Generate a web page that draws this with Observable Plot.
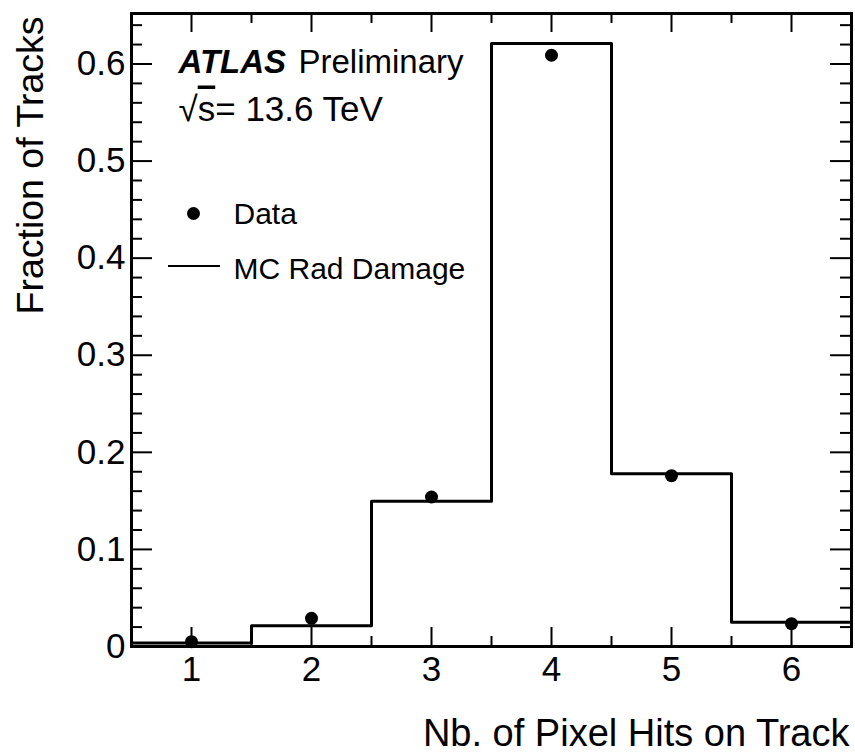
<!DOCTYPE html>
<html><head><meta charset="utf-8">
<script src="https://cdn.jsdelivr.net/npm/d3@7"></script>
<script src="https://cdn.jsdelivr.net/npm/@observablehq/plot@0.6"></script>
<style>
html,body{margin:0;padding:0;background:#fff;}
#chart svg{display:block}
</style></head><body><div id="chart"></div>
<script>
const hits = [1, 2, 3, 4, 5, 6];
const mcRadDamage = [0.0035, 0.0215, 0.1495, 0.621, 0.178, 0.025];
const dataFraction = [0.005, 0.029, 0.154, 0.609, 0.176, 0.0235];
const xTicks = [1, 2, 3, 4, 5, 6];
const xTickLabels = ["1", "2", "3", "4", "5", "6"];
const yTicks = [0, 0.1, 0.2, 0.3, 0.4, 0.5, 0.6];
const yTickLabels = ["0", "0.1", "0.2", "0.3", "0.4", "0.5", "0.6"];
const seriesNames = ["Data", "MC Rad Damage"];
const xTitle = "Nb. of Pixel Hits on Track";
const yTitle = "Fraction of Tracks";
const expLabel = "ATLAS";
const statusLabel = "Preliminary";
const energyLabel = "√s= 13.6 TeV";

const W = 855, H = 754, mL = 131, mR = 4, mT = 13, mB = 108;
const fw = W - mL - mR, fh = H - mT - mB;
const font = "'Liberation Sans', Arial, Helvetica, sans-serif";

const step = hits.map((h, i) => ({x: h - 0.5, y: mcRadDamage[i]}));
step.push({x: hits[hits.length - 1] + 0.5, y: mcRadDamage[mcRadDamage.length - 1]});
const pts = hits.map((h, i) => ({x: h, y: dataFraction[i]}));
const xMinor = hits.slice(1).map(h => h - 0.5);
const yMinor = d3.range(0, 33).filter(i => i % 5).map(i => i * 0.02);

const plot = Plot.plot({
  width: W, height: H,
  marginLeft: mL, marginRight: mR, marginTop: mT, marginBottom: mB,
  style: {fontFamily: font, background: "#fff", color: "#000", overflow: "visible"},
  x: {domain: [0.5, 6.5]},
  y: {domain: [0, 0.652]},
  marks: [
    Plot.lineY(step, {x: "x", y: "y", curve: "step-after", stroke: "#000", strokeWidth: 3}),
    Plot.dot(pts, {x: "x", y: "y", r: 6.5, fill: "#000", stroke: "none"}),
    Plot.tickX(xTicks, {x: d => d, insetTop: fh - 19, strokeWidth: 2}),
    Plot.tickX(xTicks, {x: d => d, insetBottom: fh - 19, strokeWidth: 2}),
    Plot.tickX(xMinor, {x: d => d, insetTop: fh - 10, strokeWidth: 2}),
    Plot.tickX(xMinor, {x: d => d, insetBottom: fh - 10, strokeWidth: 2}),
    Plot.tickY(yTicks, {y: d => d, insetRight: fw - 21, strokeWidth: 2}),
    Plot.tickY(yTicks, {y: d => d, insetLeft: fw - 21, strokeWidth: 2}),
    Plot.tickY(yMinor, {y: d => d, insetRight: fw - 11, strokeWidth: 2}),
    Plot.tickY(yMinor, {y: d => d, insetLeft: fw - 11, strokeWidth: 2}),
    Plot.frame({stroke: "#000", strokeWidth: 3}),
    Plot.axisX(xTicks, {tickSize: 0, tickPadding: 10, fontSize: 35, tickFormat: d => xTickLabels[xTicks.indexOf(d)], label: null}),
    Plot.axisY(yTicks, {tickSize: 0, tickPadding: 6, fontSize: 35, tickFormat: d => yTickLabels[yTicks.indexOf(d)], label: null}),
    Plot.text([xTitle], {text: d => d, frameAnchor: "bottom-right", textAnchor: "end", lineAnchor: "bottom", dx: -2, dy: 99, fontSize: 38}),
    Plot.text([yTitle], {text: d => d, frameAnchor: "top-left", rotate: -90, textAnchor: "end", lineAnchor: "bottom", dx: -89, dy: 3, fontSize: 37.5}),
    Plot.text([expLabel], {text: d => d, frameAnchor: "top-left", textAnchor: "start", lineAnchor: "bottom", dx: 47, dy: 59, fontSize: 33, fontWeight: "bold", fontStyle: "italic"}),
    Plot.text([statusLabel], {text: d => d, frameAnchor: "top-left", textAnchor: "start", lineAnchor: "bottom", dx: 167, dy: 59, fontSize: 33}),
    Plot.text([energyLabel], {text: d => d, frameAnchor: "top-left", textAnchor: "start", lineAnchor: "bottom", dx: 47, dy: 107, fontSize: 35}),
    Plot.text([seriesNames[0]], {text: d => d, frameAnchor: "top-left", textAnchor: "start", lineAnchor: "bottom", dx: 102, dy: 210, fontSize: 30}),
    Plot.text([seriesNames[1]], {text: d => d, frameAnchor: "top-left", textAnchor: "start", lineAnchor: "bottom", dx: 102, dy: 265, fontSize: 30}),
    Plot.dot([seriesNames[0]], {frameAnchor: "top-left", dx: 62, dy: 200, r: 6.5, fill: "#000", stroke: "none"})
  ]
});

const svg = d3.select(plot);
// legend line sample for MC
svg.append("line").attr("x1", 168).attr("x2", 220).attr("y1", 266).attr("y2", 266)
  .attr("stroke", "#000").attr("stroke-width", 2);
// overline on the s of sqrt(s)
svg.selectAll("text").each(function() {
  if (this.textContent === energyLabel) {
    const t = d3.select(this);
    t.text(null);
    t.append("tspan").text("√");
    t.append("tspan").style("text-decoration", "overline").text("s");
    t.append("tspan").text("= 13.6 TeV");
  }
});
document.getElementById("chart").appendChild(plot);
</script>
</body></html>
